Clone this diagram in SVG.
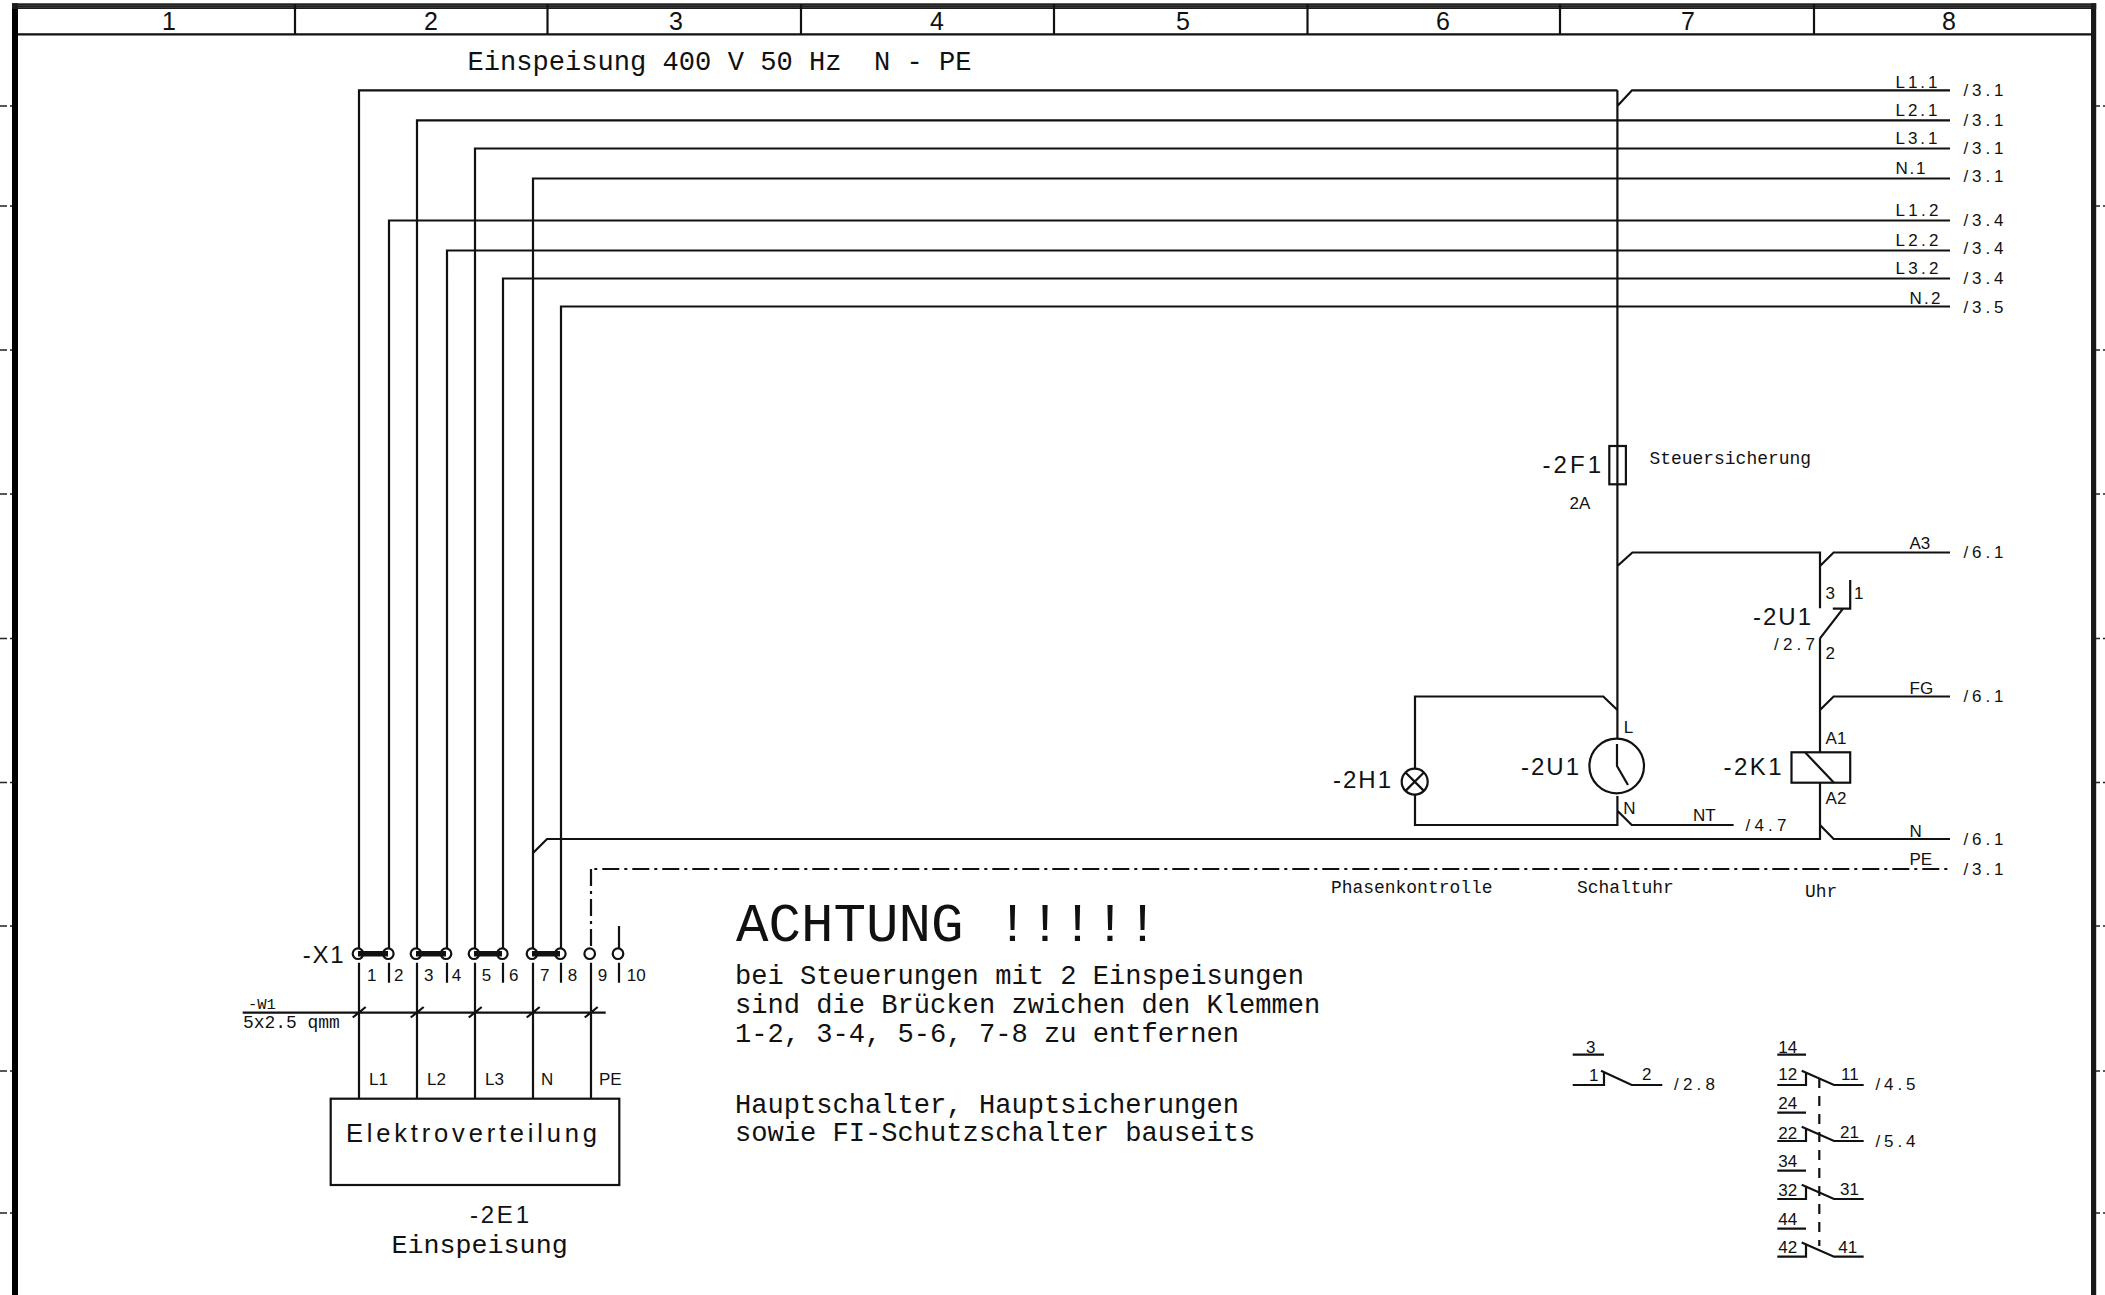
<svg xmlns="http://www.w3.org/2000/svg" width="2105" height="1295" viewBox="0 0 2105 1295">
<style>
text{fill:#111}
.m{font-family:"Liberation Mono",monospace;font-size:27.1px}
.ms{font-family:"Liberation Mono",monospace;font-size:17.95px}
.h{font-family:"Liberation Sans",Arial,sans-serif;font-size:25px;text-anchor:middle}
.b{font-family:"Liberation Sans",Arial,sans-serif;font-size:24px}
.s{font-family:"Liberation Sans",Arial,sans-serif;font-size:17px}
.w{fill:none;stroke:#111;stroke-width:2.2}
.c{fill:#fff;stroke:#111;stroke-width:2.2}
.t{stroke:#111;stroke-width:2.2}
.pe{fill:none;stroke:#111;stroke-width:2.2;stroke-dasharray:17 5 3 5}
</style>
<rect width="2105" height="1295" fill="#fff"/>
<g id="frame">
<rect x="12" y="3.3" width="6" height="1291.7" fill="#000"/>
<rect x="2091" y="3.3" width="5.2" height="1291.7" fill="#181818"/>
<rect x="12" y="3.3" width="2084.2" height="5.7" fill="#1c1c1c"/>
<path d="M18 5.4H2091M18 7.4H2091" fill="none" stroke="#555" stroke-width="0.6"/>
<path d="M18 34.3H2091M295 4V34M547.5 4V34M801 4V34M1054 4V34M1307.5 4V34M1560 4V34M1814 4V34" class="t" fill="none"/>
<text class="h" x="169" y="30">1</text><text class="h" x="431" y="30">2</text><text class="h" x="676" y="30">3</text><text class="h" x="937" y="30">4</text><text class="h" x="1183" y="30">5</text><text class="h" x="1443" y="30">6</text><text class="h" x="1688" y="30">7</text><text class="h" x="1949" y="30">8</text>
<path d="M0 106H7M10 106H12M0 206H7M10 206H12M0 350H7M10 350H12M0 494H7M10 494H12M0 638.5H7M10 638.5H12M0 782.5H7M10 782.5H12M0 926H7M10 926H12M0 1071H7M10 1071H12M0 1213H7M10 1213H12M2096 106H2100M2103 106H2105M2096 206H2100M2103 206H2105M2096 350H2100M2103 350H2105M2096 494H2100M2103 494H2105M2096 638.5H2100M2103 638.5H2105M2096 782.5H2100M2103 782.5H2105M2096 926H2100M2103 926H2105M2096 1071H2100M2103 1071H2105M2096 1213H2100M2103 1213H2105" stroke="#222" stroke-width="1.6" fill="none"/>
</g>
<g id="connectors">
<path class="w" d="M359 948V90.3H1617.4M1617.4 90.3V446M1617.4 106L1632 90.3H1950"/>
<path class="w" d="M417 948V120.3H1950M475 948V148.5H1950M533 948V178.5H1950"/>
<path class="w" d="M389 948V220.5H1950M447 948V250.5H1950M503 948V278.5H1950M561 948V306.5H1950"/>
<path class="w" d="M1617.4 484V738M1617.4 566L1632.4 552.5H1820V608.3M1820 566L1833.6 552.5H1950"/>
<path class="w" d="M1617.4 710L1603.3 696.5H1415V768M1415 795V825H1617.4V796M1617.4 810.7L1631.7 825H1733.6"/>
<path class="w" d="M533 853L547 839H1820V782.7M1820 825L1833.6 839H1950"/>
<path class="w" d="M1820 638.3V752.3M1820 710L1833.6 696.5H1950"/>
<path class="pe" stroke-dashoffset="18.7" d="M591 869H1950"/>
<path class="pe" d="M591 869V948"/>
<path class="w" d="M619 926V948"/>
<path class="w" d="M359 962.7V1098.7M417 962.7V1098.7M475 962.7V1098.7M533 962.7V1098.7M591 962.7V1098.7M389 962.7V982.7M447 962.7V982.7M503 962.7V982.7M561 962.7V982.7M619 962.7V982.7"/>
<path class="w" d="M242.7 1012.7H605.7M352.7 1017.5L365.7 1007M410.7 1017.5L423.7 1007M468.7 1017.5L481.7 1007M526.7 1017.5L539.7 1007M584.7 1017.5L597.7 1007"/>
</g>
<g id="X1">
<path d="M358 953.7H388M416 953.7H446M474 953.7H502M532 953.7H560" stroke="#111" stroke-width="5.5" fill="none"/>
<g fill="none" stroke="#111" stroke-width="2.2"><circle cx="358" cy="953.7" r="5.3"/><circle cx="388.3" cy="953.7" r="5.3"/><circle cx="416" cy="953.7" r="5.3"/><circle cx="446" cy="953.7" r="5.3"/><circle cx="474" cy="953.7" r="5.3"/><circle cx="502.3" cy="953.7" r="5.3"/><circle cx="532" cy="953.7" r="5.3"/><circle cx="560.3" cy="953.7" r="5.3"/></g>
<circle class="c" cx="589.7" cy="953.7" r="5.3"/><circle class="c" cx="618" cy="953.7" r="5.3"/>
<text class="b" x="302.7" y="963" textLength="41">-X1</text>
<text class="s" x="367" y="981.3">1</text><text class="s" x="394" y="981.3">2</text><text class="s" x="424" y="981.3">3</text><text class="s" x="451.7" y="981.3">4</text><text class="s" x="481.7" y="981.3">5</text><text class="s" x="509" y="981.3">6</text><text class="s" x="540" y="981.3">7</text><text class="s" x="567.7" y="981.3">8</text><text class="s" x="597.7" y="981.3">9</text><text class="s" x="626.7" y="981.3" textLength="19">10</text>
</g>
<g id="W1">
<text class="ms" style="font-size:15.5px" x="248" y="1009">-W1</text>
<text class="ms" x="243" y="1027.6">5x2.5 qmm</text>
</g>
<g id="E1">
<rect class="w" x="330.7" y="1098.7" width="288.6" height="86.3"/>
<text class="b" style="font-size:25.5px" x="346" y="1142" textLength="251">Elektroverteilung</text>
<text class="s" x="369" y="1085.3">L1</text><text class="s" x="427" y="1085.3">L2</text><text class="s" x="485" y="1085.3">L3</text><text class="s" x="541" y="1085.3">N</text><text class="s" x="599" y="1085.3">PE</text>
<text class="b" x="470" y="1223" textLength="59">-2E1</text>
<text class="m" x="391.5" y="1253" style="font-size:26.7px">Einspeisung</text>
</g>
<g id="labels">
<text class="m" x="467.5" y="69.8" xml:space="preserve">Einspeisung 400 V 50 Hz  N - PE</text>
<text class="m" x="736" y="940.5" style="font-size:54.2px">ACHTUNG !!!!!</text>
<text class="m" x="735" y="983.8">bei Steuerungen mit 2 Einspeisungen</text>
<text class="m" x="735" y="1013.2">sind die Brücken zwichen den Klemmen</text>
<text class="m" x="735" y="1041.5">1-2, 3-4, 5-6, 7-8 zu entfernen</text>
<text class="m" x="735" y="1112.8">Hauptschalter, Hauptsicherungen</text>
<text class="m" x="735" y="1141.2">sowie FI-Schutzschalter bauseits</text>
<text class="ms" x="1331" y="893">Phasenkontrolle</text>
<text class="ms" x="1577" y="893">Schaltuhr</text>
<text class="ms" x="1805" y="897">Uhr</text>
</g>
<g id="xrefs">
<text class="s" x="1895.5" y="88.3" textLength="42">L1.1</text><text class="s" x="1963.5" y="96" textLength="40">/3.1</text>
<text class="s" x="1895.5" y="115.7" textLength="42">L2.1</text><text class="s" x="1963.5" y="126" textLength="40">/3.1</text>
<text class="s" x="1895.5" y="144" textLength="42">L3.1</text><text class="s" x="1963.5" y="154" textLength="40">/3.1</text>
<text class="s" x="1895.5" y="174" textLength="30">N.1</text><text class="s" x="1963.5" y="182" textLength="40">/3.1</text>
<text class="s" x="1895.5" y="216" textLength="43">L1.2</text><text class="s" x="1963.5" y="226" textLength="40">/3.4</text>
<text class="s" x="1895.5" y="245.7" textLength="43">L2.2</text><text class="s" x="1963.5" y="254" textLength="40">/3.4</text>
<text class="s" x="1895.5" y="274" textLength="43">L3.2</text><text class="s" x="1963.5" y="284" textLength="40">/3.4</text>
<text class="s" x="1909.4" y="304.3" textLength="31">N.2</text><text class="s" x="1963.5" y="313.3" textLength="40">/3.5</text>
<text class="s" x="1909.5" y="549.3">A3</text><text class="s" x="1963.5" y="557.6" textLength="40">/6.1</text>
<text class="s" x="1909.5" y="693.6">FG</text><text class="s" x="1963.5" y="702" textLength="40">/6.1</text>
<text class="s" x="1693" y="821.3">NT</text><text class="s" x="1745.5" y="831.3" textLength="41">/4.7</text>
<text class="s" x="1909.5" y="837.3">N</text><text class="s" x="1963.5" y="845.3" textLength="40">/6.1</text>
<text class="s" x="1909.5" y="865.3">PE</text><text class="s" x="1963.5" y="875.3" textLength="40">/3.1</text>
</g>
<g id="F1">
<rect class="w" x="1609.3" y="446" width="16.6" height="38.3"/>
<path class="w" d="M1617.4 446V484"/>
<text class="b" x="1542.5" y="473" textLength="58.5">-2F1</text>
<text class="s" x="1569.5" y="509.3">2A</text>
<text class="ms" x="1649.5" y="463.6">Steuersicherung</text>
</g>
<g id="U1-contact">
<path class="w" d="M1850.2 580V608.7H1832.8M1843 608.7L1820 638.3"/>
<text class="s" x="1825.6" y="599.3">3</text><text class="s" x="1854" y="599.3">1</text><text class="s" x="1825.6" y="659.3">2</text>
<text class="b" x="1753" y="624.8" textLength="58">-2U1</text>
<text class="s" x="1774" y="649.6" textLength="41">/2.7</text>
</g>
<g id="H1">
<circle class="c" cx="1414.7" cy="781.7" r="13"/>
<path class="w" d="M1405.5 772.5L1423.9 790.9M1423.9 772.5L1405.5 790.9"/>
<text class="b" x="1333" y="788.4" textLength="58">-2H1</text>
</g>
<g id="U1-clock">
<circle class="w" cx="1616.7" cy="766" r="27.3"/>
<path class="w" d="M1617 744V766L1628 785"/>
<text class="b" x="1521" y="774.8" textLength="58">-2U1</text>
<text class="s" x="1623.7" y="733">L</text><text class="s" x="1623.3" y="813.6">N</text>
</g>
<g id="K1">
<rect class="w" x="1791.5" y="752.3" width="58.7" height="30.4"/>
<path class="w" d="M1805 752.3L1834 782.7"/>
<text class="s" x="1825.6" y="743.6">A1</text><text class="s" x="1825.6" y="803.6">A2</text>
<text class="b" x="1723.5" y="774.8" textLength="58">-2K1</text>
</g>
<g id="contact-mirror-U1">
<path class="w" d="M1572.7 1054.7H1604M1572.7 1085H1604V1071.7M1601 1070.7L1631.7 1085H1662.3"/>
<text class="s" x="1586" y="1053">3</text><text class="s" x="1589" y="1081">1</text><text class="s" x="1642" y="1080.3">2</text>
<text class="s" x="1674" y="1089.6" textLength="41">/2.8</text>
</g>
<g id="contact-mirror-K1">
<path class="w" d="M1777.3 1054.7H1806M1777.3 1085H1806V1071.7M1801.7 1070.7L1834 1085H1863.7"/>
<path class="w" d="M1777.3 1112.7H1806M1777.3 1141H1806V1127.7M1801.7 1126.7L1834 1141H1863.7"/>
<path class="w" d="M1777.3 1170.7H1806M1777.3 1199H1806V1185.7M1801.7 1184.7L1834 1199H1863.7"/>
<path class="w" d="M1777.3 1228.7H1806M1777.3 1256.7H1806V1243.4M1801.7 1242.4L1834 1256.7H1863.7"/>
<path class="w" stroke-dasharray="10 8" d="M1819.3 1078V1246"/>
<text class="s" x="1778.3" y="1053">14</text><text class="s" x="1778.3" y="1080">12</text><text class="s" x="1841" y="1079.6">11</text><text class="s" x="1875.5" y="1089.6" textLength="40">/4.5</text>
<text class="s" x="1778.3" y="1109.3">24</text><text class="s" x="1778.3" y="1138.6">22</text><text class="s" x="1840" y="1137.6">21</text><text class="s" x="1875.5" y="1147" textLength="40">/5.4</text>
<text class="s" x="1778.3" y="1167">34</text><text class="s" x="1778.3" y="1196">32</text><text class="s" x="1840" y="1195.3">31</text>
<text class="s" x="1778.3" y="1224.6">44</text><text class="s" x="1778.3" y="1252.6">42</text><text class="s" x="1838.3" y="1252.6">41</text>
</g>
</svg>
